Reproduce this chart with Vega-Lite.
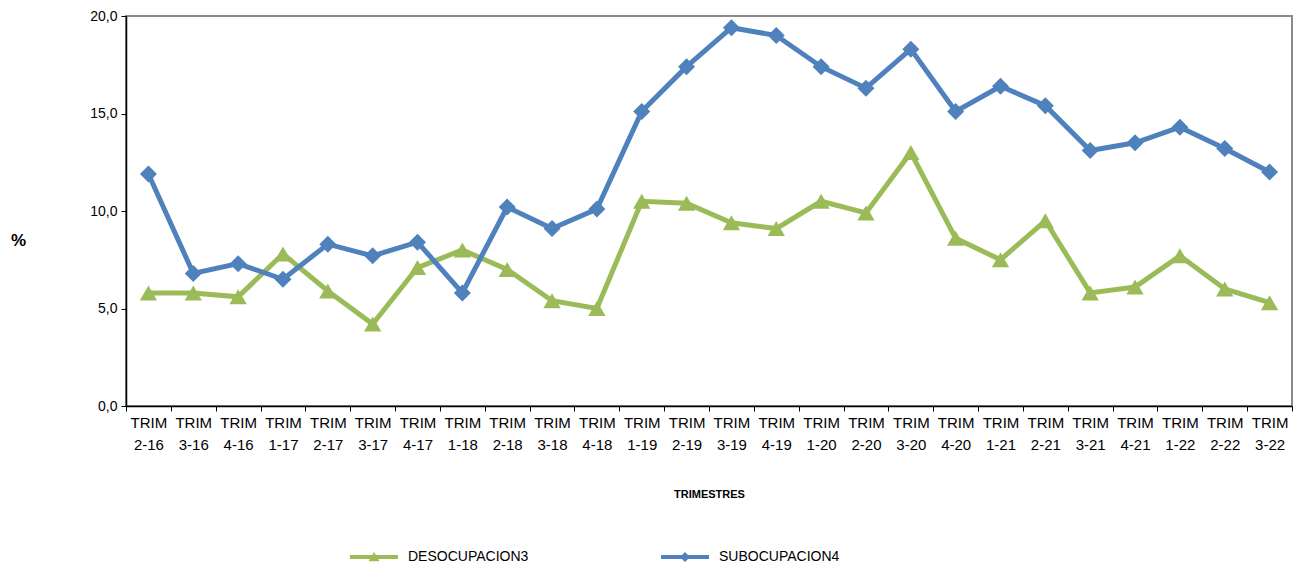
{
  "$schema": "https://vega.github.io/schema/vega-lite/v6.json",
  "width": 1166,
  "height": 390,
  "autosize": "none",
  "padding": {"left": 126, "top": 16, "right": 15, "bottom": 160},
  "background": "white",
  "config": {
    "font": "Liberation Sans",
    "view": {"stroke": "#8c8c8c", "strokeWidth": 2}
  },
  "data": {
    "values": [
      {"trimestre": "2-16", "serie": "DESOCUPACION3", "valor": 5.8},
      {"trimestre": "3-16", "serie": "DESOCUPACION3", "valor": 5.8},
      {"trimestre": "4-16", "serie": "DESOCUPACION3", "valor": 5.6},
      {"trimestre": "1-17", "serie": "DESOCUPACION3", "valor": 7.8},
      {"trimestre": "2-17", "serie": "DESOCUPACION3", "valor": 5.9},
      {"trimestre": "3-17", "serie": "DESOCUPACION3", "valor": 4.2},
      {"trimestre": "4-17", "serie": "DESOCUPACION3", "valor": 7.1},
      {"trimestre": "1-18", "serie": "DESOCUPACION3", "valor": 8.0},
      {"trimestre": "2-18", "serie": "DESOCUPACION3", "valor": 7.0},
      {"trimestre": "3-18", "serie": "DESOCUPACION3", "valor": 5.4},
      {"trimestre": "4-18", "serie": "DESOCUPACION3", "valor": 5.0},
      {"trimestre": "1-19", "serie": "DESOCUPACION3", "valor": 10.5},
      {"trimestre": "2-19", "serie": "DESOCUPACION3", "valor": 10.4},
      {"trimestre": "3-19", "serie": "DESOCUPACION3", "valor": 9.4},
      {"trimestre": "4-19", "serie": "DESOCUPACION3", "valor": 9.1},
      {"trimestre": "1-20", "serie": "DESOCUPACION3", "valor": 10.5},
      {"trimestre": "2-20", "serie": "DESOCUPACION3", "valor": 9.9},
      {"trimestre": "3-20", "serie": "DESOCUPACION3", "valor": 13.0},
      {"trimestre": "4-20", "serie": "DESOCUPACION3", "valor": 8.6},
      {"trimestre": "1-21", "serie": "DESOCUPACION3", "valor": 7.5},
      {"trimestre": "2-21", "serie": "DESOCUPACION3", "valor": 9.5},
      {"trimestre": "3-21", "serie": "DESOCUPACION3", "valor": 5.8},
      {"trimestre": "4-21", "serie": "DESOCUPACION3", "valor": 6.1},
      {"trimestre": "1-22", "serie": "DESOCUPACION3", "valor": 7.7},
      {"trimestre": "2-22", "serie": "DESOCUPACION3", "valor": 6.0},
      {"trimestre": "3-22", "serie": "DESOCUPACION3", "valor": 5.3},
      {"trimestre": "2-16", "serie": "SUBOCUPACION4", "valor": 11.9},
      {"trimestre": "3-16", "serie": "SUBOCUPACION4", "valor": 6.8},
      {"trimestre": "4-16", "serie": "SUBOCUPACION4", "valor": 7.3},
      {"trimestre": "1-17", "serie": "SUBOCUPACION4", "valor": 6.5},
      {"trimestre": "2-17", "serie": "SUBOCUPACION4", "valor": 8.3},
      {"trimestre": "3-17", "serie": "SUBOCUPACION4", "valor": 7.7},
      {"trimestre": "4-17", "serie": "SUBOCUPACION4", "valor": 8.4},
      {"trimestre": "1-18", "serie": "SUBOCUPACION4", "valor": 5.8},
      {"trimestre": "2-18", "serie": "SUBOCUPACION4", "valor": 10.2},
      {"trimestre": "3-18", "serie": "SUBOCUPACION4", "valor": 9.1},
      {"trimestre": "4-18", "serie": "SUBOCUPACION4", "valor": 10.1},
      {"trimestre": "1-19", "serie": "SUBOCUPACION4", "valor": 15.1},
      {"trimestre": "2-19", "serie": "SUBOCUPACION4", "valor": 17.4},
      {"trimestre": "3-19", "serie": "SUBOCUPACION4", "valor": 19.4},
      {"trimestre": "4-19", "serie": "SUBOCUPACION4", "valor": 19.0},
      {"trimestre": "1-20", "serie": "SUBOCUPACION4", "valor": 17.4},
      {"trimestre": "2-20", "serie": "SUBOCUPACION4", "valor": 16.3},
      {"trimestre": "3-20", "serie": "SUBOCUPACION4", "valor": 18.3},
      {"trimestre": "4-20", "serie": "SUBOCUPACION4", "valor": 15.1},
      {"trimestre": "1-21", "serie": "SUBOCUPACION4", "valor": 16.4},
      {"trimestre": "2-21", "serie": "SUBOCUPACION4", "valor": 15.4},
      {"trimestre": "3-21", "serie": "SUBOCUPACION4", "valor": 13.1},
      {"trimestre": "4-21", "serie": "SUBOCUPACION4", "valor": 13.5},
      {"trimestre": "1-22", "serie": "SUBOCUPACION4", "valor": 14.3},
      {"trimestre": "2-22", "serie": "SUBOCUPACION4", "valor": 13.2},
      {"trimestre": "3-22", "serie": "SUBOCUPACION4", "valor": 12.0}
    ]
  },
  "encoding": {
    "x": {
      "field": "trimestre",
      "type": "nominal",
      "sort": null,
      "scale": {"paddingInner": 0, "paddingOuter": 0},
      "axis": {
        "title": "TRIMESTRES",
        "titleFontSize": 11,
        "titleFontWeight": "bold",
        "titleColor": "black",
        "titleY": 88,
        "titleBaseline": "middle",
        "labelAngle": 0,
        "labelAlign": "center",
        "labelFlush": false,
        "labelBound": false,
        "labelOverlap": false,
        "labelExpr": "datum.value ? ['TRIM', datum.value] : ''",
        "labelFontSize": 15,
        "labelColor": "black",
        "labelLineHeight": 22,
        "labelPadding": 4,
        "labelBaseline": "top",
        "tickBand": "extent",
        "tickSize": 5,
        "tickColor": "black",
        "domainColor": "black",
        "domainWidth": 1.5
      }
    },
    "y": {
      "field": "valor",
      "type": "quantitative",
      "scale": {"domain": [0, 20], "nice": false},
      "axis": {
        "title": "%",
        "titleAngle": 0,
        "titleFontSize": 17,
        "titleFontWeight": "bold",
        "titleColor": "black",
        "titleX": -108,
        "titleY": 224,
        "titleAlign": "center",
        "titleBaseline": "middle",
        "values": [0, 5, 10, 15, 20],
        "labelExpr": "replace(format(datum.value, '.1f'), '.', ',')",
        "labelFontSize": 14,
        "labelColor": "black",
        "labelPadding": 4,
        "tickSize": 5,
        "tickColor": "black",
        "domainColor": "black",
        "domainWidth": 1.5,
        "grid": false
      }
    },
    "color": {
      "field": "serie",
      "type": "nominal",
      "scale": {"domain": ["DESOCUPACION3", "SUBOCUPACION4"], "range": ["#9BBB59", "#4F81BD"]},
      "legend": {
        "title": null,
        "orient": "none",
        "direction": "horizontal",
        "legendX": 238,
        "legendY": 531,
        "padding": 0,
        "labelFontSize": 14,
        "labelColor": "black",
        "labelOffset": 24,
        "columnPadding": 132,
        "symbolSize": 400,
        "symbolStrokeWidth": 0,
        "symbolType": "M-2.4,-0.2L2.4,-0.2L2.4,0.2L-2.4,0.2Z",
        "encode": {
          "symbols": {
            "update": {
              "shape": {"signal": "datum.value === 'DESOCUPACION3' ? 'M-2.4,-0.2L2.4,-0.2L2.4,0.2L-2.4,0.2Z M0,-0.5L0.55,0.42L-0.55,0.42Z' : 'M-2.4,-0.2L2.4,-0.2L2.4,0.2L-2.4,0.2Z M0,-0.5L0.5,0L0,0.5L-0.5,0Z'"},
              "fill": {"signal": "datum.value === 'DESOCUPACION3' ? '#9BBB59' : '#4F81BD'"},
              "stroke": {"value": "transparent"},
              "opacity": {"value": 1},
              "fillOpacity": {"value": 1},
              "size": {"value": 400}
            }
          }
        }
      }
    }
  },
  "layer": [
    {
      "mark": {"type": "line", "strokeWidth": 5}
    },
    {
      "transform": [{"filter": "datum.serie === 'DESOCUPACION3'"}],
      "mark": {"type": "point", "filled": true, "opacity": 1, "size": 300, "shape": "triangle-up"}
    },
    {
      "transform": [{"filter": "datum.serie === 'SUBOCUPACION4'"}],
      "mark": {"type": "point", "filled": true, "opacity": 1, "size": 290, "shape": "diamond"}
    }
  ]
}
